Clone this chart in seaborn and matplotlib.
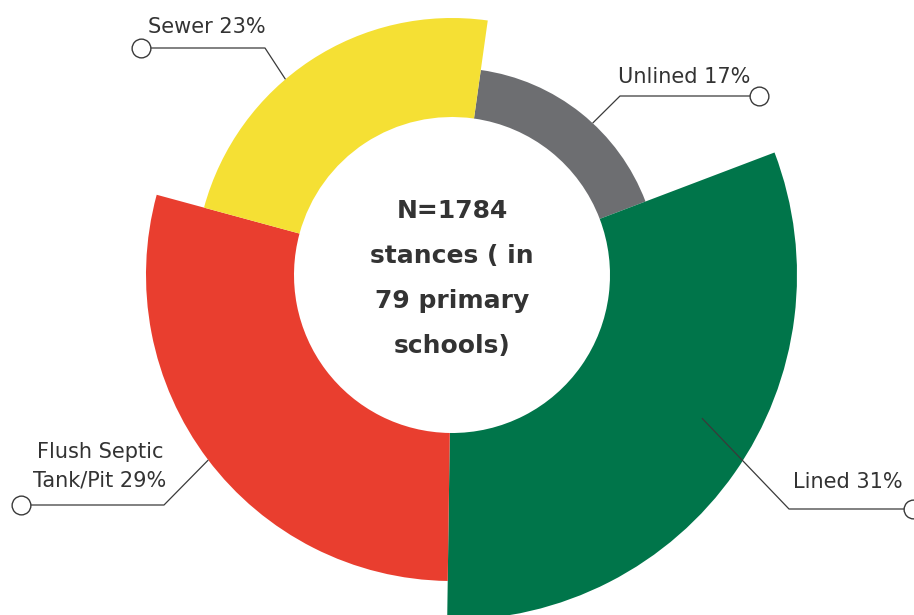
import numpy as np
import matplotlib
matplotlib.use("Agg")
import matplotlib.pyplot as plt
import seaborn as sns

# Toilet types among latrine stances (N=1784 in 79 primary schools)
categories = ["Unlined", "Lined", "Flush Septic\nTank/Pit", "Sewer"]
shares = [17, 31, 29, 23]                  # percent of stances
outer_radius = [207, 345, 306, 257]        # ring depth of each segment
colors = ["#6D6E71", "#00754A", "#E93E2F", "#F5E034"]
center_lines = ["N=1784", "stances ( in", "79 primary", "schools)"]

inner_radius = 158
start_deg = 8

sns.set_theme(style="white")
plt.rcParams["font.family"] = ["DejaVu Sans"]
text_color = "#333333"
line_color = "#3A3A3A"

W, H, DPI = 914, 615, 100
fig = plt.figure(figsize=(W / DPI, H / DPI), dpi=DPI)
fig.patch.set_facecolor("white")

# polar axes centred on the ring, 1 data unit = 1 pixel
cx, cy = 452, 275
R = 360
pax = fig.add_axes([(cx - R) / W, (H - cy - R) / H, 2 * R / W, 2 * R / H],
                   projection="polar")
pax.set_theta_zero_location("N")
pax.set_theta_direction(-1)
pax.set_ylim(0, R)
pax.set_axis_off()

widths = np.deg2rad(np.array(shares) / 100 * 360)
starts = np.deg2rad(start_deg) + np.concatenate([[0], np.cumsum(widths)[:-1]])
heights = np.array(outer_radius) - inner_radius
pax.bar(starts, heights, width=widths, bottom=inner_radius, align="edge",
        color=colors, edgecolor="none", linewidth=0)

# overlay in pixel coordinates for the callouts and the centre caption
ov = fig.add_axes([0, 0, 1, 1], zorder=5)
ov.set_xlim(0, W)
ov.set_ylim(H, 0)
ov.set_axis_off()

def to_overlay(theta_deg, r):
    disp = pax.transData.transform((np.deg2rad(theta_deg), r))
    return ov.transData.inverted().transform(disp)

# callout: anchor on the segment (angle, radius), elbow, end marker, label
callouts = [
    dict(anchor=(42.8, 207), elbow=(620, 96), end=(759, 96),
         text="Unlined 17%", tx=684, ty=83),
    dict(anchor=(119.8, 288), elbow=(789, 509), end=(913, 509),
         text="Lined 31%", tx=848, ty=488),
    dict(anchor=(232.8, 306), elbow=(164, 505), end=(21, 505),
         text="Flush Septic\nTank/Pit 29%", tx=100, ty=487),
    dict(anchor=(319.6, 257), elbow=(265, 48), end=(141, 48),
         text="Sewer 23%", tx=207, ty=33),
]

for c in callouts:
    ax_, ay_ = to_overlay(*c["anchor"])
    ex, ey = c["elbow"]
    px, py = c["end"]
    ov.plot([ax_, ex, px], [ay_, ey, py], color=line_color, lw=0.9,
            solid_capstyle="butt", zorder=6)
    ov.plot([px], [py], marker="o", ms=13.5, mfc="white", mec=line_color,
            mew=1.0, zorder=7, clip_on=False)
    lines = c["text"].split("\n")
    for i, ln in enumerate(reversed(lines)):
        ov.text(c["tx"], c["ty"] - i * 29, ln, ha="center", va="baseline",
                fontsize=15, color=text_color)

for i, ln in enumerate(center_lines):
    ov.text(cx, 218 + i * 45, ln, ha="center", va="baseline",
            fontsize=18, fontweight="bold", color=text_color)

fig.savefig("out.png", dpi=DPI, facecolor="white")
